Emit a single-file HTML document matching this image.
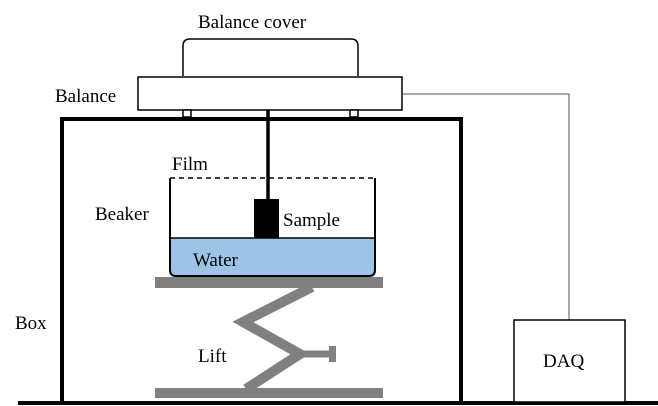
<!DOCTYPE html>
<html><head><meta charset="utf-8"><style>
html,body{margin:0;padding:0;background:#fff;}
svg{display:block;}
text{font-family:"Liberation Serif",serif;font-size:19px;fill:#000;}
</style></head><body>
<svg width="658" height="406" viewBox="0 0 658 406">
<path d="M183,76 V46 Q183,39 190,39 H351 Q358,39 358,46 V76" fill="#fff" stroke="#000" stroke-width="1.5"/>
<rect x="138" y="77" width="264" height="33" fill="#fff" stroke="#000" stroke-width="1.5"/>
<rect x="183" y="110" width="8" height="7" fill="#fff" stroke="#000" stroke-width="1.5"/>
<rect x="350" y="110" width="8" height="7" fill="#fff" stroke="#000" stroke-width="1.5"/>
<polyline points="402,94 569,94 569,320" fill="none" stroke="#555" stroke-width="1"/>
<rect x="62" y="119" width="399" height="284" fill="none" stroke="#000" stroke-width="4"/>
<line x1="18" y1="403" x2="658" y2="403" stroke="#000" stroke-width="4"/>
<rect x="514" y="320" width="111" height="82" fill="#fff" stroke="#000" stroke-width="1.5"/>
<path d="M170,238 H375 V270 Q375,276 369,276 H176 Q170,276 170,270 Z" fill="#9dc3e6"/>
<path d="M170,178 V270 Q170,276 176,276 H369 Q375,276 375,270 V178" fill="none" stroke="#000" stroke-width="2"/>
<line x1="170" y1="238" x2="375" y2="238" stroke="#000" stroke-width="1.5"/>
<line x1="170" y1="178" x2="375" y2="178" stroke="#000" stroke-width="1.5" stroke-dasharray="5,4"/>
<line x1="268" y1="110" x2="268" y2="200" stroke="#000" stroke-width="3.5"/>
<rect x="254" y="199" width="25" height="39" fill="#000"/>
<rect x="155" y="277" width="228" height="11" fill="#808080"/>
<rect x="155" y="388" width="228" height="10" fill="#808080"/>
<polyline points="312,287 243,322 300,354 246,389" fill="none" stroke="#808080" stroke-width="10" stroke-linejoin="miter"/>
<line x1="300" y1="354" x2="332" y2="354" stroke="#808080" stroke-width="7"/>
<rect x="329" y="346" width="7" height="16" fill="#808080"/>
<text x="198" y="28">Balance cover</text>
<text x="55" y="102">Balance</text>
<text x="172" y="170">Film</text>
<text x="95" y="220">Beaker</text>
<text x="283" y="226">Sample</text>
<text x="193" y="266">Water</text>
<text x="15" y="329">Box</text>
<text x="198" y="362">Lift</text>
<text x="543" y="367">DAQ</text>
</svg>
</body></html>
